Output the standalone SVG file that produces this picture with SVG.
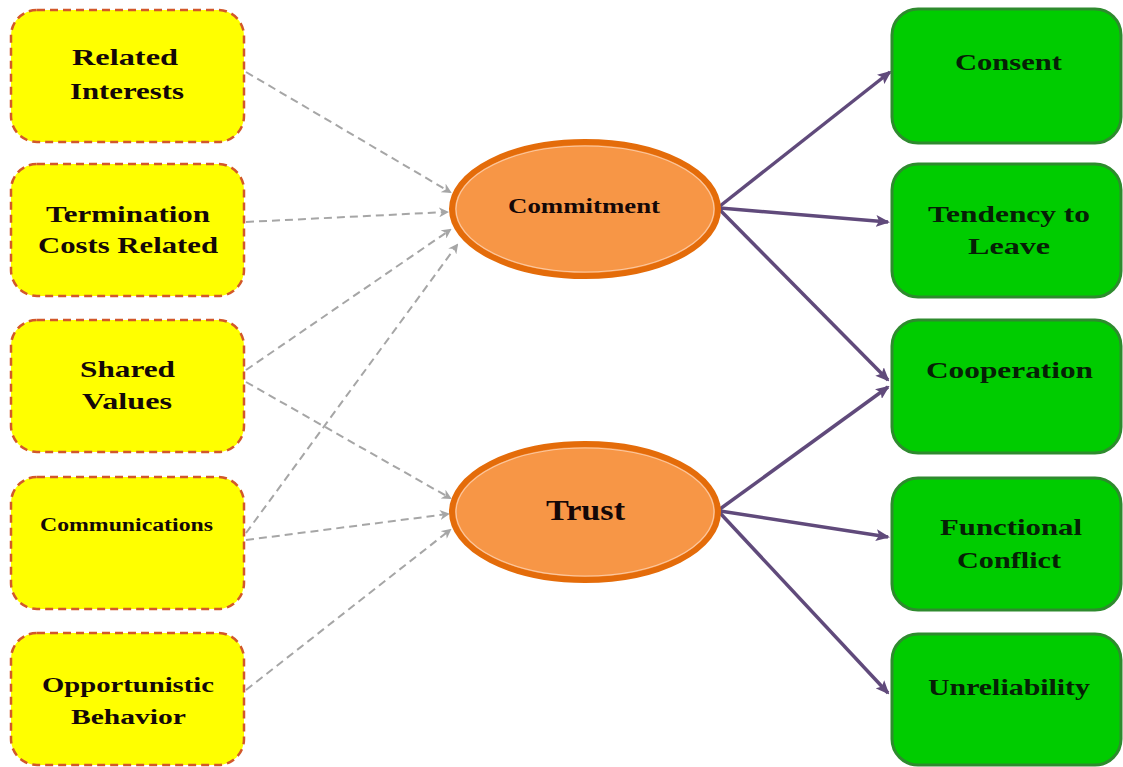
<svg xmlns="http://www.w3.org/2000/svg" width="1123" height="767" viewBox="0 0 1123 767">
<defs>
<style>
.ybox{fill:#FFFF00;stroke:#D2582A;stroke-width:2.5;stroke-dasharray:8 5}
.gbox{fill:#00CC00;stroke:#2E8B2E;stroke-width:3}
.ell{fill:#F79646;stroke:#E46C0A;stroke-width:6}
.ell2{fill:none;stroke:#FBC79F;stroke-width:1.2}
.t{font-family:"Liberation Serif","Times New Roman",serif;font-weight:bold;fill:#140808;text-anchor:start}
.tg{font-family:"Liberation Serif","Times New Roman",serif;font-weight:bold;fill:#062006}
.dash{stroke:#A6A6A6;stroke-width:2;stroke-dasharray:8 5;fill:none;marker-end:url(#ag)}
.solid{stroke:#604A7B;stroke-width:3.5;fill:none;marker-end:url(#ap)}
</style>
<marker id="ag" markerWidth="10" markerHeight="10" refX="8" refY="5" orient="auto" markerUnits="userSpaceOnUse">
<path d="M0,0 L10,5 L0,10 L3,5 Z" fill="#A6A6A6"/>
</marker>
<marker id="ap" markerWidth="14" markerHeight="12" refX="12" refY="6" orient="auto" markerUnits="userSpaceOnUse">
<path d="M0,0 L14,6 L0,12 L3,6 Z" fill="#604A7B"/>
</marker>
</defs>

<g id="connectors">
<line class="dash" x1="246" y1="72" x2="450" y2="192"/>
<line class="dash" x1="246" y1="222" x2="447" y2="212"/>
<line class="dash" x1="246" y1="370" x2="450" y2="230"/>
<line class="dash" x1="246" y1="382" x2="450" y2="498"/>
<line class="dash" x1="246" y1="533" x2="457" y2="245"/>
<line class="dash" x1="246" y1="540" x2="448" y2="514"/>
<line class="dash" x1="246" y1="690" x2="450" y2="530"/>
<line class="solid" x1="720" y1="206" x2="890" y2="72"/>
<line class="solid" x1="720" y1="208" x2="888" y2="222"/>
<line class="solid" x1="720" y1="210" x2="888" y2="380"/>
<line class="solid" x1="720" y1="509" x2="888" y2="387"/>
<line class="solid" x1="720" y1="511" x2="888" y2="537"/>
<line class="solid" x1="720" y1="513" x2="888" y2="693"/>
</g>

<g id="related-interests">
<rect class="ybox" x="11" y="10" width="233" height="132" rx="26"/>
<text class="t" x="72" y="65" font-size="23" textLength="106" lengthAdjust="spacingAndGlyphs">Related</text>
<text class="t" x="70" y="99" font-size="23" textLength="114" lengthAdjust="spacingAndGlyphs">Interests</text>
</g>
<g id="termination-costs">
<rect class="ybox" x="11" y="164" width="233" height="132" rx="26"/>
<text class="t" x="46" y="222" font-size="23" textLength="164" lengthAdjust="spacingAndGlyphs">Termination</text>
<text class="t" x="38" y="253" font-size="23" textLength="180" lengthAdjust="spacingAndGlyphs">Costs Related</text>
</g>
<g id="shared-values">
<rect class="ybox" x="11" y="320" width="233" height="132" rx="26"/>
<text class="t" x="80" y="377" font-size="23" textLength="95" lengthAdjust="spacingAndGlyphs">Shared</text>
<text class="t" x="82" y="409" font-size="23" textLength="90" lengthAdjust="spacingAndGlyphs">Values</text>
</g>
<g id="communications">
<rect class="ybox" x="11" y="477" width="233" height="132" rx="26"/>
<text class="t" x="40" y="531" font-size="18" textLength="173" lengthAdjust="spacingAndGlyphs">Communications</text>
</g>
<g id="opportunistic-behavior">
<rect class="ybox" x="11" y="633" width="233" height="132" rx="26"/>
<text class="t" x="42" y="692" font-size="22" textLength="172" lengthAdjust="spacingAndGlyphs">Opportunistic</text>
<text class="t" x="71" y="724" font-size="22" textLength="115" lengthAdjust="spacingAndGlyphs">Behavior</text>
</g>

<g id="commitment">
<ellipse class="ell" cx="585" cy="209" rx="133" ry="67"/>
<ellipse class="ell2" cx="585" cy="209" rx="129" ry="63"/>
<text class="t" x="508" y="213" font-size="21" textLength="152" lengthAdjust="spacingAndGlyphs">Commitment</text>
</g>
<g id="trust">
<ellipse class="ell" cx="585" cy="512" rx="133" ry="68"/>
<ellipse class="ell2" cx="585" cy="512" rx="129" ry="64"/>
<text class="t" x="546" y="520" font-size="29" textLength="79" lengthAdjust="spacingAndGlyphs">Trust</text>
</g>

<g id="consent">
<rect class="gbox" x="892" y="9" width="229" height="134" rx="26"/>
<text class="tg" x="955" y="70" font-size="23" textLength="107" lengthAdjust="spacingAndGlyphs">Consent</text>
</g>
<g id="tendency-to-leave">
<rect class="gbox" x="892" y="164" width="229" height="133" rx="26"/>
<text class="tg" x="928" y="222" font-size="23" textLength="162" lengthAdjust="spacingAndGlyphs">Tendency to</text>
<text class="tg" x="968" y="254" font-size="23" textLength="82" lengthAdjust="spacingAndGlyphs">Leave</text>
</g>
<g id="cooperation">
<rect class="gbox" x="892" y="320" width="229" height="133" rx="26"/>
<text class="tg" x="926" y="378" font-size="23" textLength="167" lengthAdjust="spacingAndGlyphs">Cooperation</text>
</g>
<g id="functional-conflict">
<rect class="gbox" x="892" y="478" width="229" height="132" rx="26"/>
<text class="tg" x="940" y="535" font-size="23" textLength="142" lengthAdjust="spacingAndGlyphs">Functional</text>
<text class="tg" x="957" y="568" font-size="23" textLength="104" lengthAdjust="spacingAndGlyphs">Conflict</text>
</g>
<g id="unreliability">
<rect class="gbox" x="892" y="634" width="229" height="131" rx="26"/>
<text class="tg" x="928" y="695" font-size="23" textLength="162" lengthAdjust="spacingAndGlyphs">Unreliability</text>
</g>
</svg>
